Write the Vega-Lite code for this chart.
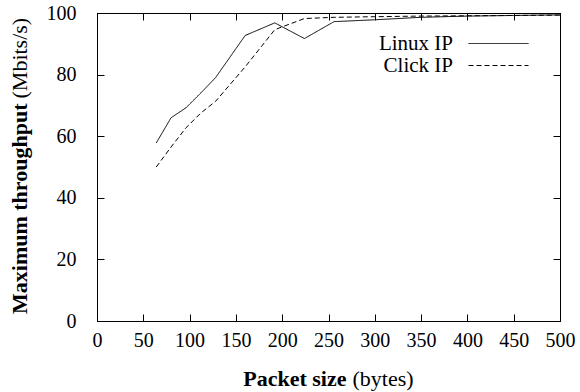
{
  "$schema": "https://vega.github.io/schema/vega-lite/v6.json",
  "width": 463,
  "height": 308,
  "autosize": "none",
  "padding": {"left": 97, "top": 13, "right": 20, "bottom": 71},
  "background": "white",
  "config": {
    "view": {"stroke": "black", "strokeWidth": 1},
    "font": "Liberation Serif",
    "axis": {
      "grid": false,
      "domainColor": "black",
      "tickColor": "black",
      "tickSize": -7,
      "labelFont": "Liberation Serif",
      "labelFontSize": 20,
      "labelColor": "black",
      "labelOverlap": false,
      "labelFlush": false,
      "titleFont": "Liberation Serif",
      "titleFontSize": 22,
      "titleColor": "black"
    },
    "legend": {"labelFont": "Liberation Serif"}
  },
  "data": {
    "values": [
      {"size": 64, "tput": 57.8, "series": "Linux IP"},
      {"size": 80, "tput": 66.0, "series": "Linux IP"},
      {"size": 96, "tput": 69.2, "series": "Linux IP"},
      {"size": 112, "tput": 74.0, "series": "Linux IP"},
      {"size": 128, "tput": 79.0, "series": "Linux IP"},
      {"size": 160, "tput": 92.7, "series": "Linux IP"},
      {"size": 192, "tput": 96.8, "series": "Linux IP"},
      {"size": 224, "tput": 91.7, "series": "Linux IP"},
      {"size": 256, "tput": 97.2, "series": "Linux IP"},
      {"size": 300, "tput": 97.8, "series": "Linux IP"},
      {"size": 350, "tput": 98.6, "series": "Linux IP"},
      {"size": 400, "tput": 99.0, "series": "Linux IP"},
      {"size": 450, "tput": 99.2, "series": "Linux IP"},
      {"size": 500, "tput": 99.4, "series": "Linux IP"},
      {"size": 64, "tput": 50.0, "series": "Click IP"},
      {"size": 80, "tput": 56.5, "series": "Click IP"},
      {"size": 96, "tput": 62.7, "series": "Click IP"},
      {"size": 112, "tput": 67.5, "series": "Click IP"},
      {"size": 128, "tput": 71.3, "series": "Click IP"},
      {"size": 160, "tput": 82.5, "series": "Click IP"},
      {"size": 192, "tput": 94.6, "series": "Click IP"},
      {"size": 224, "tput": 98.2, "series": "Click IP"},
      {"size": 256, "tput": 98.6, "series": "Click IP"},
      {"size": 300, "tput": 98.8, "series": "Click IP"},
      {"size": 350, "tput": 99.0, "series": "Click IP"},
      {"size": 400, "tput": 99.1, "series": "Click IP"},
      {"size": 450, "tput": 99.2, "series": "Click IP"},
      {"size": 500, "tput": 99.3, "series": "Click IP"}
    ]
  },
  "layer": [
    {
      "mark": {"type": "line", "color": "black", "strokeWidth": 1, "clip": true},
      "encoding": {
        "x": {
          "field": "size", "type": "quantitative",
          "scale": {"domain": [0, 500], "nice": false},
          "axis": {
            "orient": "bottom", "values": [0, 50, 100, 150, 200, 250, 300, 350, 400, 450, 500],
            "labelPadding": 16, "title": "Packet size", "titleFontWeight": "bold",
            "titleAlign": "right", "titleAnchor": null, "titleX": 249, "titleY": 64, "titleBaseline": "alphabetic"
          }
        },
        "y": {
          "field": "tput", "type": "quantitative",
          "scale": {"domain": [0, 100], "nice": false},
          "axis": {
            "orient": "left", "values": [0, 20, 40, 60, 80, 100],
            "labelPadding": 28, "title": "Maximum throughput", "titleFontWeight": "bold",
            "titleAngle": -90, "titleAlign": "right", "titleAnchor": null, "titleX": -71, "titleY": 90, "titleBaseline": "alphabetic"
          }
        },
        "strokeDash": {
          "field": "series", "type": "nominal",
          "scale": {"domain": ["Linux IP", "Click IP"], "range": [[1, 0], [5, 3]]},
          "legend": {
            "orient": "none", "legendX": 391, "legendY": 20, "title": null,
            "symbolType": "M-6,0H6", "symbolSize": 100, "symbolStrokeColor": "black",
            "symbolStrokeWidth": 1, "symbolFillColor": "transparent",
            "labelAlign": "right", "labelOffset": -56, "labelFontSize": 21,
            "labelColor": "black", "rowPadding": 0, "padding": 0
          }
        }
      }
    },
    {
      "mark": {"type": "line", "opacity": 0},
      "encoding": {
        "x": {
          "field": "size", "type": "quantitative",
          "axis": {"orient": "top", "values": [0, 50, 100, 150, 200, 250, 300, 350, 400, 450, 500], "labels": false, "title": null}
        },
        "y": {
          "field": "tput", "type": "quantitative",
          "axis": {"orient": "right", "values": [0, 20, 40, 60, 80, 100], "labels": false, "title": null}
        },
        "detail": {"field": "series"}
      }
    },
    {
      "mark": {"type": "line", "opacity": 0},
      "encoding": {
        "x": {
          "field": "size", "type": "quantitative",
          "axis": {"orient": "bottom", "labels": false, "ticks": false, "domain": false,
            "title": "(bytes)", "titleFontWeight": "normal",
            "titleAlign": "left", "titleAnchor": null, "titleX": 255, "titleY": 64, "titleBaseline": "alphabetic"}
        },
        "y": {
          "field": "tput", "type": "quantitative",
          "axis": {"orient": "left", "labels": false, "ticks": false, "domain": false,
            "title": "(Mbits/s)", "titleFontWeight": "normal",
            "titleAngle": -90, "titleAlign": "left", "titleAnchor": null, "titleX": -71, "titleY": 85, "titleBaseline": "alphabetic"}
        },
        "detail": {"field": "series"}
      }
    }
  ],
  "resolve": {"axis": {"x": "independent", "y": "independent"}}
}
